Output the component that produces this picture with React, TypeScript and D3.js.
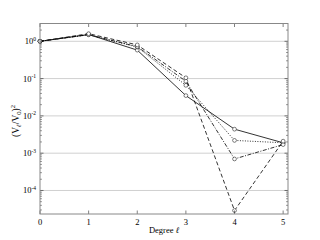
import React from "react";
import * as d3 from "d3";

const degrees = [0, 1, 2, 3, 4, 5];
const solidSeries = [1.0, 1.52, 0.58, 0.035, 0.0044, 0.0019];
const dottedSeries = [1.0, 1.5, 0.7, 0.066, 0.0022, 0.0019];
const dashDotSeries = [1.0, 1.5, 0.72, 0.085, 0.0007, 0.0017];
const dashedSeries = [1.0, 1.6, 0.8, 0.105, 0.000029, 0.0021];
const xTicks = [0, 1, 2, 3, 4, 5];
const yDecades = [0, -1, -2, -3, -4];

const W = 320, H = 240;
const L = 40, R = 288, T = 23.5, B = 214;

export default function App() {
  const x = d3.scaleLinear().domain([0, 5.1]).range([L, R]);
  const y = d3.scaleLog().domain([2.34e-5, 3.0]).range([B, T]);
  const line = d3.line<number>().x((_, i) => x(degrees[i])).y((v) => y(v));
  const series = [
    { data: solidSeries, dash: "none", color: "#000" },
    { data: dottedSeries, dash: "1,1.5", color: "#000" },
    { data: dashDotSeries, dash: "4,1.5,1,1.5", color: "#000" },
    { data: dashedSeries, dash: "4,2.5", color: "#000" },
  ];
  const minor: number[] = [];
  for (let e = -5; e <= 0; e++) {
    for (let m = 2; m <= 9; m++) {
      const v = m * Math.pow(10, e);
      if (v >= 2.34e-5 && v <= 3.0) minor.push(v);
    }
  }
  const font = "Liberation Serif, DejaVu Serif, serif";
  return (
    <svg width={W} height={H} style={{ position: "absolute", left: 0, top: 0, background: "#fff" }} fontFamily={font} fill="#000">
      <rect x={0} y={0} width={W} height={H} fill="#fff" />
      {yDecades.map((e) => (
        <line key={"g" + e} x1={L} x2={R} y1={y(Math.pow(10, e))} y2={y(Math.pow(10, e))} stroke="#d0d0d0" strokeWidth={1} />
      ))}
      {series.map((s, i) => (
        <path key={"s" + i} d={line(s.data) || ""} fill="none" stroke={s.color} strokeWidth={0.8} strokeDasharray={s.dash} />
      ))}
      {series.map((s, i) =>
        s.data.map((v, j) => (
          <circle key={"m" + i + "-" + j} cx={x(degrees[j])} cy={y(v)} r={1.9} fill="#fff" stroke="#000" strokeWidth={0.5} />
        ))
      )}
      {xTicks.map((t) => (
        <g key={"xt" + t}>
          <line x1={x(t)} x2={x(t)} y1={B} y2={B - 3.5} stroke="#000" strokeWidth={0.5} />
          <line x1={x(t)} x2={x(t)} y1={T} y2={T + 3.5} stroke="#000" strokeWidth={0.5} />
          <text x={x(t)} y={B + 11} fontSize={8.5} textAnchor="middle" fill="#000">{t}</text>
        </g>
      ))}
      {yDecades.map((e) => {
        const yy = y(Math.pow(10, e));
        return (
          <g key={"yt" + e}>
            <line x1={L} x2={L + 3.5} y1={yy} y2={yy} stroke="#000" strokeWidth={0.5} />
            <line x1={R} x2={R - 3.5} y1={yy} y2={yy} stroke="#000" strokeWidth={0.5} />
            <text x={L - 4} y={yy + 3} fontSize={8.5} textAnchor="end" fill="#000">
              10<tspan fontSize={5.5} dy={-3.5}>{e}</tspan>
            </text>
          </g>
        );
      })}
      {minor.map((v, i) => (
        <g key={"mn" + i}>
          <line x1={L} x2={L + 1.8} y1={y(v)} y2={y(v)} stroke="#000" strokeWidth={0.5} />
          <line x1={R} x2={R - 1.8} y1={y(v)} y2={y(v)} stroke="#000" strokeWidth={0.5} />
        </g>
      ))}
      <rect x={L} y={T} width={R - L} height={B - T} fill="none" stroke="#888" strokeWidth={1} />
      <text x={164} y={233} fontSize={8.5} textAnchor="middle" fill="#000">
        Degree <tspan fontStyle="italic">ℓ</tspan>
      </text>
      <text transform={`translate(19,121) rotate(-90)`} fontSize={9.5} textAnchor="middle" fill="#000">
        (V<tspan fontSize={6.5} fontStyle="italic" dy={2}>ℓ</tspan>
        <tspan dy={-2}>/V</tspan>
        <tspan fontSize={6.5} dy={2}>0</tspan>
        <tspan dy={-2}>)</tspan>
        <tspan fontSize={6.5} dy={-4}>2</tspan>
      </text>
    </svg>
  );
}
